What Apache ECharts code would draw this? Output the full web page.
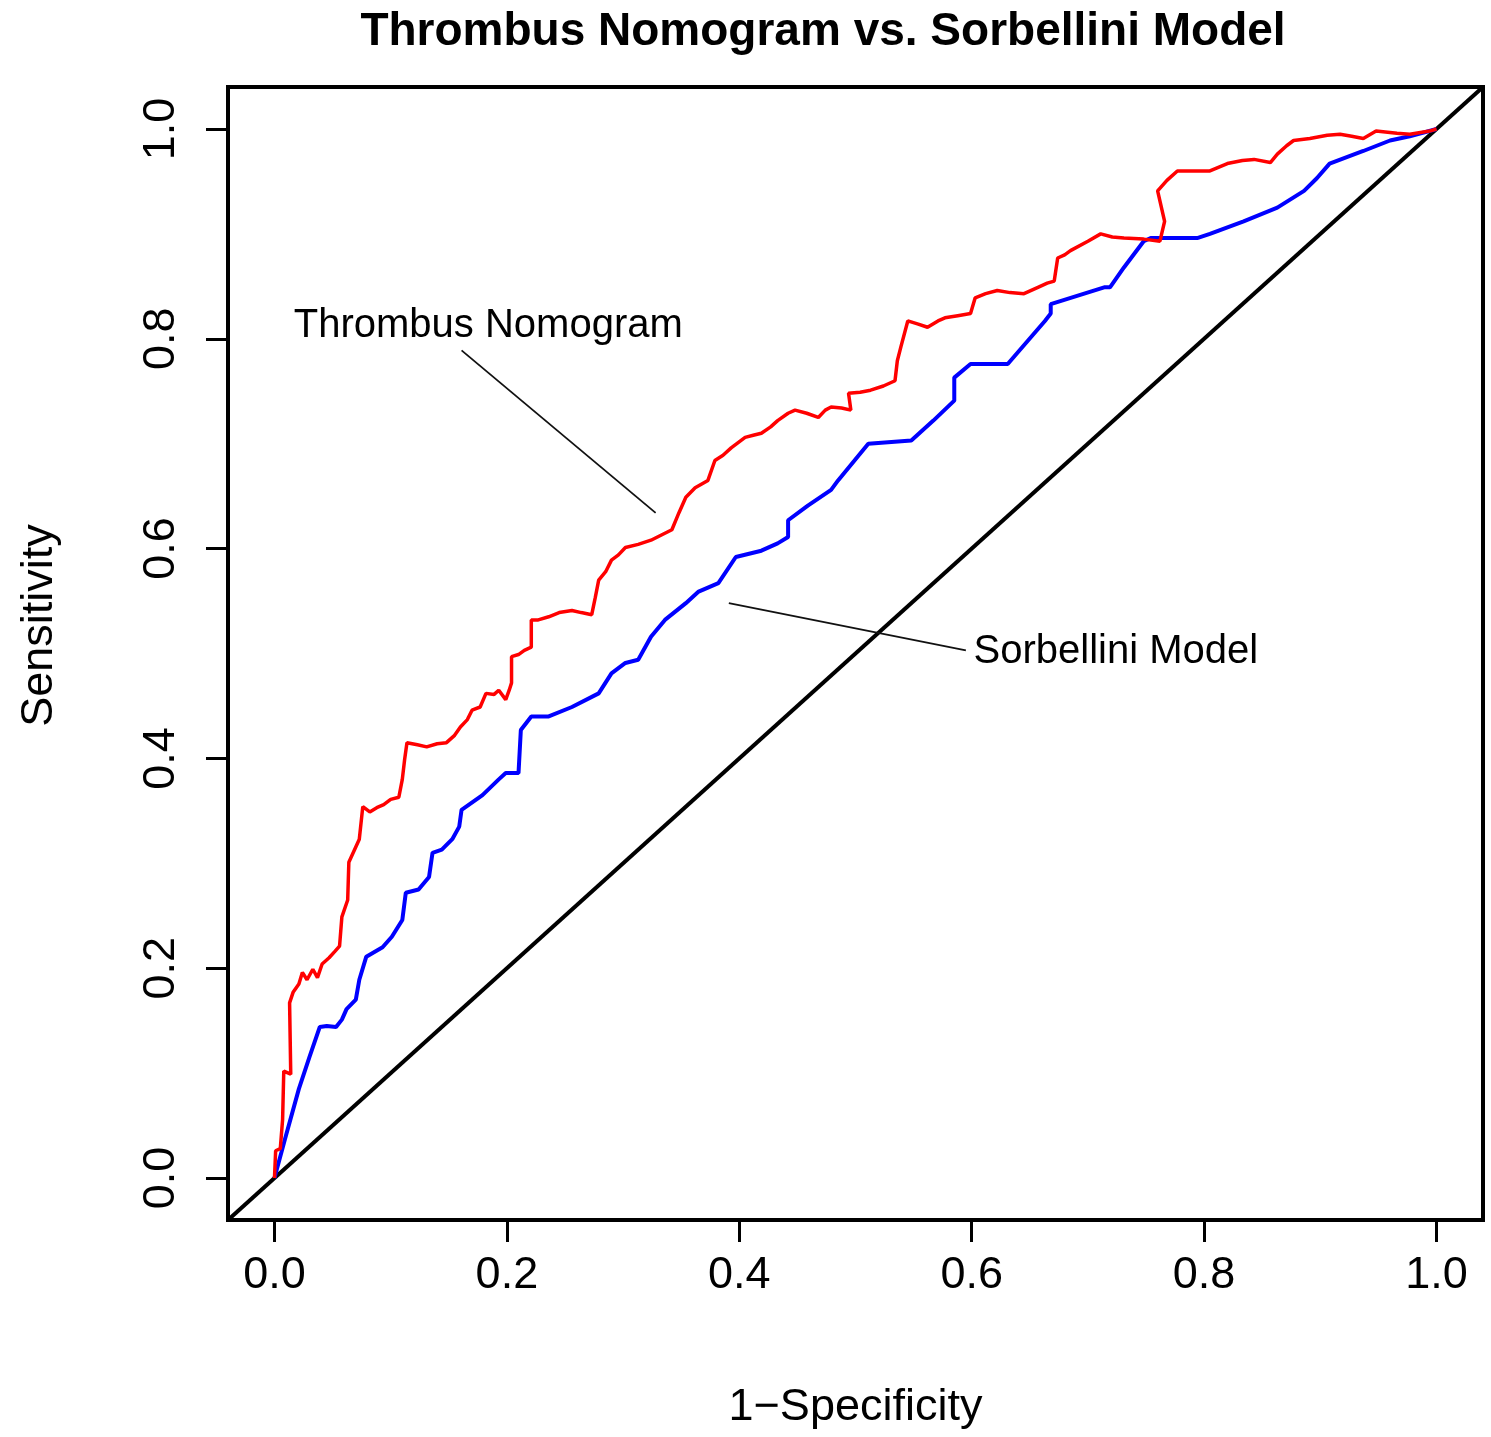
<!DOCTYPE html>
<html>
<head>
<meta charset="utf-8">
<title>Thrombus Nomogram vs. Sorbellini Model</title>
<script src="https://cdn.jsdelivr.net/npm/echarts@6/dist/echarts.min.js"></script>
<style>
  html, body { margin: 0; padding: 0; background: #fff; }
  #chart { width: 1491px; height: 1437px; }
</style>
</head>
<body>
<div id="chart"></div>
<script>
// ROC curves: [1 - specificity, sensitivity]
const thrombusNomogram = [
  [0, 0], [0.001, 0.026], [0.005, 0.028], [0.007, 0.056], [0.008, 0.102], [0.014, 0.099],
  [0.013, 0.167], [0.016, 0.177], [0.021, 0.185], [0.024, 0.196], [0.028, 0.189], [0.033, 0.199],
  [0.037, 0.191], [0.041, 0.204], [0.047, 0.210], [0.052, 0.216], [0.056, 0.221], [0.058, 0.249],
  [0.063, 0.265], [0.064, 0.301], [0.073, 0.323], [0.076, 0.354], [0.082, 0.349], [0.088, 0.353],
  [0.094, 0.356], [0.100, 0.361], [0.107, 0.363], [0.110, 0.380], [0.112, 0.399], [0.114, 0.415],
  [0.123, 0.413], [0.131, 0.411], [0.140, 0.414], [0.148, 0.415], [0.155, 0.422], [0.160, 0.430],
  [0.166, 0.437], [0.170, 0.446], [0.177, 0.449], [0.182, 0.462], [0.189, 0.461], [0.193, 0.465],
  [0.199, 0.456], [0.202, 0.465], [0.204, 0.472], [0.204, 0.497], [0.210, 0.499], [0.215, 0.503],
  [0.221, 0.506], [0.221, 0.532], [0.227, 0.532], [0.236, 0.535], [0.245, 0.539], [0.256, 0.541],
  [0.264, 0.539], [0.273, 0.537], [0.276, 0.553], [0.279, 0.570], [0.285, 0.578], [0.290, 0.589],
  [0.296, 0.594], [0.302, 0.601], [0.313, 0.604], [0.324, 0.608], [0.333, 0.613], [0.342, 0.618],
  [0.348, 0.634], [0.354, 0.649], [0.362, 0.658], [0.373, 0.665], [0.379, 0.684], [0.386, 0.689],
  [0.393, 0.696], [0.399, 0.701], [0.405, 0.706], [0.412, 0.708], [0.419, 0.710], [0.427, 0.716],
  [0.433, 0.722], [0.442, 0.729], [0.448, 0.732], [0.458, 0.729], [0.468, 0.725], [0.474, 0.732],
  [0.479, 0.735], [0.488, 0.734], [0.496, 0.732], [0.494, 0.748], [0.504, 0.749], [0.513, 0.751],
  [0.524, 0.755], [0.534, 0.760], [0.536, 0.779], [0.539, 0.792], [0.545, 0.817], [0.554, 0.814],
  [0.562, 0.811], [0.571, 0.817], [0.577, 0.820], [0.588, 0.822], [0.599, 0.824], [0.603, 0.839],
  [0.612, 0.843], [0.622, 0.846], [0.633, 0.844], [0.645, 0.843], [0.657, 0.849], [0.665, 0.853],
  [0.671, 0.855], [0.674, 0.877], [0.680, 0.880], [0.685, 0.884], [0.700, 0.893], [0.711, 0.900],
  [0.721, 0.897], [0.731, 0.896], [0.748, 0.895], [0.762, 0.893], [0.766, 0.912], [0.760, 0.941],
  [0.768, 0.951], [0.777, 0.960], [0.794, 0.960], [0.805, 0.960], [0.820, 0.967], [0.833, 0.970],
  [0.843, 0.971], [0.857, 0.968], [0.863, 0.976], [0.871, 0.984], [0.877, 0.989], [0.891, 0.991],
  [0.906, 0.994], [0.917, 0.995], [0.927, 0.993], [0.937, 0.991], [0.948, 0.998], [0.966, 0.996],
  [0.977, 0.995], [0.994, 0.998], [1, 1]
];

const sorbelliniModel = [
  [0, 0], [0.009, 0.037], [0.021, 0.085], [0.030, 0.115], [0.039, 0.144], [0.045, 0.145],
  [0.053, 0.144], [0.058, 0.151], [0.062, 0.161], [0.070, 0.170], [0.073, 0.189], [0.079, 0.211],
  [0.093, 0.220], [0.101, 0.230], [0.110, 0.246], [0.113, 0.272], [0.124, 0.275], [0.133, 0.287],
  [0.136, 0.310], [0.144, 0.313], [0.153, 0.323], [0.159, 0.335], [0.161, 0.351], [0.179, 0.365],
  [0.193, 0.380], [0.199, 0.386], [0.210, 0.386], [0.212, 0.427], [0.221, 0.440], [0.236, 0.440],
  [0.256, 0.449], [0.279, 0.462], [0.290, 0.481], [0.302, 0.491], [0.313, 0.494], [0.324, 0.516],
  [0.336, 0.532], [0.354, 0.548], [0.365, 0.559], [0.382, 0.567], [0.397, 0.592], [0.419, 0.598],
  [0.433, 0.605], [0.442, 0.611], [0.442, 0.627], [0.459, 0.641], [0.479, 0.656], [0.485, 0.665],
  [0.511, 0.700], [0.548, 0.703], [0.567, 0.722], [0.585, 0.741], [0.585, 0.763], [0.599, 0.776],
  [0.631, 0.776], [0.663, 0.817], [0.668, 0.824], [0.668, 0.833], [0.714, 0.849], [0.719, 0.849],
  [0.731, 0.868], [0.748, 0.893], [0.754, 0.896], [0.794, 0.896], [0.805, 0.900], [0.834, 0.912],
  [0.863, 0.925], [0.886, 0.941], [0.897, 0.953], [0.908, 0.967], [0.937, 0.979], [0.960, 0.989],
  [0.977, 0.993], [1, 1]
];

// reference line of no discrimination, across the whole plotting range
const chanceLine = [[-0.04, -0.04], [1.04, 1.04]];

const tickValues = [0, 0.2, 0.4, 0.6, 0.8, 1.0];

// curve labels with their pointer lines
const labelThrombus = { text: 'Thrombus Nomogram', at: [0.184, 0.8125] };
const pointerThrombus = [[0.161, 0.789], [0.328, 0.634]];
const labelSorbellini = { text: 'Sorbellini Model', at: [0.724, 0.501] };
const pointerSorbellini = [[0.391, 0.548], [0.595, 0.503]];

const FONT = '"Liberation Sans", Arial, Helvetica, sans-serif';

const chart = echarts.init(document.getElementById('chart'), null, { renderer: 'canvas' });

const axisCommon = {
  type: 'value',
  min: -0.04,
  max: 1.04,
  splitLine: { show: false },
  axisLine: { show: false, onZero: false },
  axisTick: {
    show: true,
    customValues: tickValues,
    length: 22,
    inside: false,
    lineStyle: { color: '#000', width: 3 }
  },
  nameLocation: 'middle',
  nameTextStyle: { fontFamily: FONT, fontSize: 45, color: '#000' }
};

const option = {
  animation: false,
  backgroundColor: '#fff',
  title: {
    text: 'Thrombus Nomogram vs. Sorbellini Model',
    left: 818,
    top: 4,
    textAlign: 'center',
    textStyle: { fontFamily: FONT, fontSize: 46, fontWeight: 'bold', color: '#000' }
  },
  grid: {
    left: 228, right: 8, top: 87, bottom: 217,
    show: true,
    borderColor: '#000',
    borderWidth: 4,
    backgroundColor: '#fff'
  },
  xAxis: Object.assign({}, axisCommon, {
    name: '1\u2212Specificity',
    nameGap: 165,
    axisLabel: {
      customValues: tickValues,
      margin: 33,
      fontFamily: FONT, fontSize: 45, color: '#000',
      formatter: v => v.toFixed(1)
    }
  }),
  yAxis: Object.assign({}, axisCommon, {
    name: 'Sensitivity',
    nameGap: 166,
    nameTextStyle: { fontFamily: FONT, fontSize: 45, color: '#000', padding: [0, 0, 0, 56] },
    axisLabel: {
      customValues: tickValues,
      rotate: 90,
      margin: 44,
      fontFamily: FONT, fontSize: 45, color: '#000',
      formatter: v => v.toFixed(1)
    }
  }),
  series: [
    {
      name: 'Chance',
      type: 'line',
      data: chanceLine,
      symbol: 'none',
      lineStyle: { color: '#000', width: 4 },
      z: 2
    },
    {
      name: 'Sorbellini Model',
      type: 'line',
      data: sorbelliniModel,
      symbol: 'none',
      lineStyle: { color: '#0000FF', width: 4 },
      z: 3
    },
    {
      name: 'Thrombus Nomogram',
      type: 'line',
      data: thrombusNomogram,
      symbol: 'none',
      lineStyle: { color: '#FF0000', width: 3.5 },
      z: 4
    },
    {
      name: 'pointer-thrombus',
      type: 'line',
      data: pointerThrombus,
      symbol: 'none',
      lineStyle: { color: '#111', width: 1.8 },
      z: 5
    },
    {
      name: 'pointer-sorbellini',
      type: 'line',
      data: pointerSorbellini,
      symbol: 'none',
      lineStyle: { color: '#111', width: 1.8 },
      z: 5
    },
    {
      name: 'curve-labels',
      type: 'scatter',
      symbolSize: 1,
      itemStyle: { color: 'rgba(0,0,0,0)' },
      data: [
        { name: labelThrombus.text, value: labelThrombus.at },
        { name: labelSorbellini.text, value: labelSorbellini.at }
      ],
      label: {
        show: true,
        position: 'inside',
        formatter: p => p.name,
        fontFamily: FONT,
        fontSize: 40,
        color: '#000',
        textBorderWidth: 0,
        opacity: 1
      },
      z: 6
    }
  ]
};

chart.setOption(option);
</script>
</body>
</html>
